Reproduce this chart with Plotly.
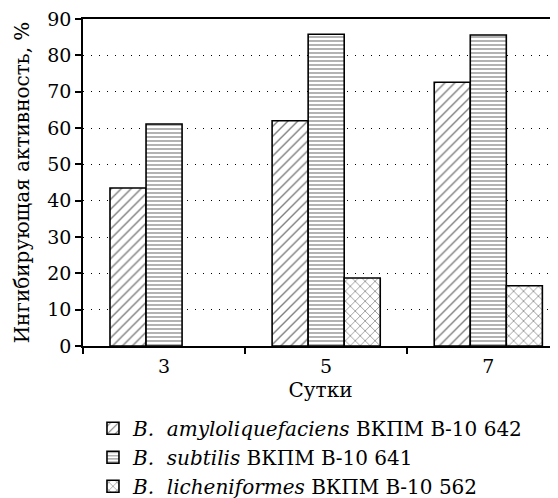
import plotly.graph_objects as go

days = ["3", "5", "7"]
amylo = [43.5, 62.0, 72.6]
subtilis = [61.1, 85.8, 85.6]
licheni = [None, 18.7, 16.6]
names = ["<i>B.  amyloliquefaciens</i> ВКПМ В-10 642",
         "<i>B.  subtilis</i> ВКПМ В-10 641",
         "<i>B.  licheniformes</i> ВКПМ В-10 562"]
y_ticks = [0, 10, 20, 30, 40, 50, 60, 70, 80, 90]

FONT = "DejaVu Serif"
fig = go.Figure()
styles = [("/", 7, 0.2), ("-", 4, 0.3), ("x", 7, 0.2)]
for i, (vals, nm, st) in enumerate(zip([amylo, subtilis, licheni], names, styles)):
    shape, size, sol = st
    fig.add_trace(go.Bar(
        x=days, y=vals, name=nm, legendgroup=f"g{i}",
        marker=dict(color="white", line=dict(color="black", width=1.6),
                    pattern=dict(shape=shape, size=size, solidity=sol,
                                 fgcolor="black", bgcolor="white")),
    ))

# page body has an 8px default margin, so the figure is 8px smaller
fig.update_layout(
    width=550, height=490,
    margin=dict(l=75, r=0, t=11, b=152, autoexpand=False),
    paper_bgcolor="white", plot_bgcolor="white",
    barmode="group", bargap=0.333, bargroupgap=0,
    font=dict(family=FONT, size=20, color="black"),
    legend=dict(x=0.021, y=-0.192, xanchor="left", yanchor="top",
                font=dict(size=20), traceorder="grouped", tracegroupgap=0),
    showlegend=True,
)
fig.update_xaxes(
    range=[-0.5, 2.43], showline=True, linecolor="black", linewidth=1.5,
    mirror=True, ticks="outside", tickson="boundaries", ticklen=6,
    tickcolor="black", tickwidth=1.5, showgrid=False, automargin=False,
    ticklabelstandoff=2,
    title=dict(text="Сутки", standoff=7, font=dict(size=20)),
    tickfont=dict(size=19),
)
fig.update_yaxes(
    range=[0, 90], tickvals=y_ticks, showline=True, linecolor="black",
    linewidth=1.5, ticks="outside", ticklen=6, tickcolor="black", tickwidth=1.5,
    showgrid=True, gridcolor="black", griddash="1px,7px", gridwidth=1.2,
    zeroline=False, tickfont=dict(size=19), automargin=False,
    ticklabeloverflow="allow",
    title=dict(text="Ингибирующая активность, %", standoff=12, font=dict(size=20)),
)
fig.write_html("out.html")
